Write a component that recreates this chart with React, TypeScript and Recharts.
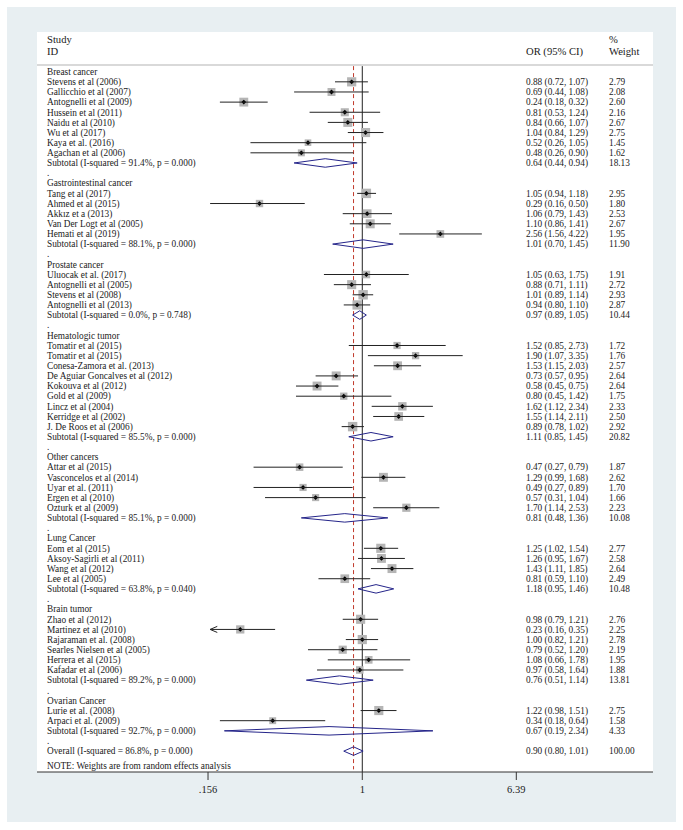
import React from 'react';
import { ScatterChart, Scatter, XAxis, YAxis, ReferenceLine, CartesianGrid } from 'recharts';

type Study = [string, number, number, number, number]; // label, OR, lower, upper, weight

const breast: Study[] = [
  ['Stevens et al (2006)', 0.88, 0.72, 1.07, 2.79],
  ['Gallicchio et al (2007)', 0.69, 0.44, 1.08, 2.08],
  ['Antognelli et al (2009)', 0.24, 0.18, 0.32, 2.6],
  ['Hussein et al (2011)', 0.81, 0.53, 1.24, 2.16],
  ['Naidu et al (2010)', 0.84, 0.66, 1.07, 2.67],
  ['Wu et al (2017)', 1.04, 0.84, 1.29, 2.75],
  ['Kaya et al. (2016)', 0.52, 0.26, 1.05, 1.45],
  ['Agachan et al (2006)', 0.48, 0.26, 0.9, 1.62],
];
const gastro: Study[] = [
  ['Tang et al (2017)', 1.05, 0.94, 1.18, 2.95],
  ['Ahmed et al (2015)', 0.29, 0.16, 0.5, 1.8],
  ['Akkız et a (2013)', 1.06, 0.79, 1.43, 2.53],
  ['Van Der Logt et al (2005)', 1.1, 0.86, 1.41, 2.67],
  ['Hemati et al (2019)', 2.56, 1.56, 4.22, 1.95],
];
const prostate: Study[] = [
  ['Uluocak et al. (2017)', 1.05, 0.63, 1.75, 1.91],
  ['Antognelli et al (2005)', 0.88, 0.71, 1.11, 2.72],
  ['Stevens et al (2008)', 1.01, 0.89, 1.14, 2.93],
  ['Antognelli et al (2013)', 0.94, 0.8, 1.1, 2.87],
];
const hemato: Study[] = [
  ['Tomatir et al (2015)', 1.52, 0.85, 2.73, 1.72],
  ['Tomatir et al (2015)', 1.9, 1.07, 3.35, 1.76],
  ['Conesa-Zamora et al. (2013)', 1.53, 1.15, 2.03, 2.57],
  ['De Aguiar Goncalves et al (2012)', 0.73, 0.57, 0.95, 2.64],
  ['Kokouva et al (2012)', 0.58, 0.45, 0.75, 2.64],
  ['Gold et al (2009)', 0.8, 0.45, 1.42, 1.75],
  ['Lincz et al (2004)', 1.62, 1.12, 2.34, 2.33],
  ['Kerridge et al (2002)', 1.55, 1.14, 2.11, 2.5],
  ['J. De Roos et al (2006)', 0.89, 0.78, 1.02, 2.92],
];
const other: Study[] = [
  ['Attar et al (2015)', 0.47, 0.27, 0.79, 1.87],
  ['Vasconcelos et al (2014)', 1.29, 0.99, 1.68, 2.62],
  ['Uyar et al. (2011)', 0.49, 0.27, 0.89, 1.7],
  ['Ergen et al (2010)', 0.57, 0.31, 1.04, 1.66],
  ['Ozturk et al (2009)', 1.7, 1.14, 2.53, 2.23],
];
const lung: Study[] = [
  ['Eom et al (2015)', 1.25, 1.02, 1.54, 2.77],
  ['Aksoy-Sagirli et al (2011)', 1.26, 0.95, 1.67, 2.58],
  ['Wang et al (2012)', 1.43, 1.11, 1.85, 2.64],
  ['Lee et al (2005)', 0.81, 0.59, 1.1, 2.49],
];
const brain: Study[] = [
  ['Zhao et al (2012)', 0.98, 0.79, 1.21, 2.76],
  ['Martinez et al (2010)', 0.23, 0.16, 0.35, 2.25],
  ['Rajaraman et al. (2008)', 1.0, 0.82, 1.21, 2.78],
  ['Searles Nielsen et al (2005)', 0.79, 0.52, 1.2, 2.19],
  ['Herrera et al (2015)', 1.08, 0.66, 1.78, 1.95],
  ['Kafadar et al (2006)', 0.97, 0.58, 1.64, 1.88],
];
const ovarian: Study[] = [
  ['Lurie et al. (2008)', 1.22, 0.98, 1.51, 2.75],
  ['Arpaci et al. (2009)', 0.34, 0.18, 0.64, 1.58],
];

const groupNames = [
  'Breast cancer', 'Gastrointestinal cancer', 'Prostate cancer', 'Hematologic tumor',
  'Other cancers', 'Lung Cancer', 'Brain tumor', 'Ovarian Cancer',
];
const groupStudies = [breast, gastro, prostate, hemato, other, lung, brain, ovarian];
// subtotal: OR, lower, upper, weight
const groupSubtotals: number[][] = [
  [0.64, 0.44, 0.94, 18.13],
  [1.01, 0.7, 1.45, 11.9],
  [0.97, 0.89, 1.05, 10.44],
  [1.11, 0.85, 1.45, 20.82],
  [0.81, 0.48, 1.36, 10.08],
  [1.18, 0.95, 1.46, 10.48],
  [0.76, 0.51, 1.14, 13.81],
  [0.67, 0.19, 2.34, 4.33],
];
const groupHet: [string, string][] = [
  ['91.4', '0.000'], ['88.1', '0.000'], ['0.0', '0.748'], ['85.5', '0.000'],
  ['85.1', '0.000'], ['63.8', '0.040'], ['89.2', '0.000'], ['92.7', '0.000'],
];
const overall = [0.9, 0.8, 1.01, 100.0];
const overallHet: [string, string] = ['86.8', '0.000'];
const noteText = 'NOTE: Weights are from random effects analysis';
const arrowStudies = ['Martinez et al (2010)'];
const xTicks = [0.156, 1, 6.39];
const xTickLabels = ['.156', '1', '6.39'];

// ---------- layout constants ----------
const W = 669;
const H = 815;
const X_DOMAIN: [number, number] = [0.01989, 33.15];
const Y_DOMAIN: [number, number] = [-3.915, 69.06];
const LABEL_X = 40;
const OR_X = 519;
const W_X = 602;
const DH = 0.42; // diamond half-height in rows
const FONT = "'Liberation Serif', 'DejaVu Serif', serif";
const NAVY = '#25258a';

const fmt = (e: number, l: number, h: number) => `${e.toFixed(2)} (${l.toFixed(2)}, ${h.toFixed(2)})`;

interface TextRow { pos: number; label: string; or?: string; w?: string; head?: boolean }
interface Pt { x: number; y: number; w: number; lo: number; hi: number; arrow: boolean }
interface Dia { est: number; lo: number; hi: number; y: number }

const textRows: TextRow[] = [
  { pos: -3.2, label: 'Study', w: '%', head: true },
  { pos: -1.98, label: 'ID', or: 'OR (95% CI)', w: 'Weight', head: true },
];
const points: Pt[] = [];
const diamonds: Dia[] = [];
let pos = 0;
groupNames.forEach((name, gi) => {
  textRows.push({ pos, label: name });
  pos++;
  groupStudies[gi].forEach(([label, est, lo, hi, w]) => {
    textRows.push({ pos, label, or: fmt(est, lo, hi), w: w.toFixed(2) });
    points.push({ x: est, y: pos, w, lo, hi, arrow: arrowStudies.includes(label) });
    pos++;
  });
  const [se, sl, sh, sw] = groupSubtotals[gi];
  const [i2, p] = groupHet[gi];
  textRows.push({ pos, label: `Subtotal (I-squared = ${i2}%, p = ${p})`, or: fmt(se, sl, sh), w: sw.toFixed(2) });
  diamonds.push({ est: se, lo: sl, hi: sh, y: pos });
  pos++;
  textRows.push({ pos, label: '.' });
  pos++;
});
textRows.push({
  pos,
  label: `Overall (I-squared = ${overallHet[0]}%, p = ${overallHet[1]})`,
  or: fmt(overall[0], overall[1], overall[2]),
  w: overall[3].toFixed(2),
});
diamonds.push({ est: overall[0], lo: overall[1], hi: overall[2], y: pos });
const overallPos = pos;
textRows.push({ pos: overallPos + 1.47, label: noteText });

// text rows as chart data: the y position comes from the row scale
const textData = textRows.map((r) => ({ x: 1, y: r.pos, row: r }));

const TextShape = (props: any) => {
  const { cy, payload } = props;
  if (cy == null || !payload) return <g />;
  const row: TextRow = payload.row;
  const fs = row.head ? 10.6 : 9.3;
  const common = { y: cy, dy: '0.35em', fontSize: fs, fontFamily: FONT, fill: '#1a1a1a', textAnchor: 'start' as const };
  return (
    <g>
      <text x={LABEL_X} {...common}>{row.label}</text>
      {row.or && <text x={OR_X} {...common}>{row.or}</text>}
      {row.w && <text x={W_X} {...common}>{row.w}</text>}
    </g>
  );
};

const NoShape = () => <g />;

const BoxShape = (props: any) => {
  const { cx, cy, payload } = props;
  if (cx == null || cy == null) return <g />;
  const s = 5.5 * Math.sqrt(payload.w);
  const d = 2.4;
  return (
    <g>
      <rect x={cx - s / 2} y={cy - s / 2} width={s} height={s} fill="#b5b5b5" />
      <path d={`M${cx - d},${cy} L${cx},${cy - d} L${cx + d},${cy} L${cx},${cy + d} Z`} fill="#000" />
    </g>
  );
};

export default function App() {
  return (
    <div style={{ position: 'absolute', left: 7, top: 7, width: W, height: H, background: '#e8eff2' }}>
      <ScatterChart width={W} height={H} margin={{ top: 25, right: 23, bottom: 20, left: 30 }}>
        <CartesianGrid fill="#ffffff" horizontal={false} vertical={false} stroke="none" />
        <XAxis
          type="number"
          dataKey="x"
          scale="log"
          domain={X_DOMAIN}
          allowDataOverflow
          ticks={xTicks}
          interval={0}
          height={30}
          tickSize={8}
          tickMargin={6}
          tickFormatter={(v: number) => xTickLabels[xTicks.indexOf(v)] ?? String(v)}
          axisLine={{ stroke: '#333', strokeWidth: 1 }}
          tickLine={{ stroke: '#333', strokeWidth: 1 }}
          tick={{ fontSize: 10.5, fontFamily: FONT, fill: '#1a1a1a' }}
        />
        <YAxis type="number" dataKey="y" domain={Y_DOMAIN} reversed allowDataOverflow hide />
        <ReferenceLine y={-0.66} stroke="#d9d9d9" strokeWidth={2} />
        <ReferenceLine segment={[{ x: 1, y: -0.55 }, { x: 1, y: Y_DOMAIN[1] }]} stroke="#222" strokeWidth={1} />
        <ReferenceLine
          segment={[{ x: overall[0], y: -0.55 }, { x: overall[0], y: 68.8 }]}
          stroke="#c0392b"
          strokeWidth={1}
          strokeDasharray="4 3"
        />
        <Scatter data={textData} shape={<TextShape />} isAnimationActive={false} />
        <Scatter data={points} shape={<BoxShape />} isAnimationActive={false} />
        {points.map((p, i) => (
          <Scatter
            key={`ci${i}`}
            data={[{ x: p.lo, y: p.y }, { x: p.hi, y: p.y }]}
            line={{ stroke: '#222', strokeWidth: 1 }}
            shape={<NoShape />}
            isAnimationActive={false}
          />
        ))}
        {points.filter((p) => p.arrow).map((p, i) => (
          <Scatter
            key={`ar${i}`}
            data={[{ x: p.lo * 1.09, y: p.y - 0.3 }, { x: p.lo, y: p.y }, { x: p.lo * 1.09, y: p.y + 0.3 }]}
            line={{ stroke: '#222', strokeWidth: 1 }}
            shape={<NoShape />}
            isAnimationActive={false}
          />
        ))}
        {diamonds.map((d, i) => (
          <Scatter
            key={`dm${i}`}
            data={[
              { x: d.lo, y: d.y },
              { x: d.est, y: d.y - DH },
              { x: d.hi, y: d.y },
              { x: d.est, y: d.y + DH },
              { x: d.lo, y: d.y },
            ]}
            line={{ stroke: NAVY, strokeWidth: 1 }}
            shape={<NoShape />}
            isAnimationActive={false}
          />
        ))}
      </ScatterChart>
    </div>
  );
}
